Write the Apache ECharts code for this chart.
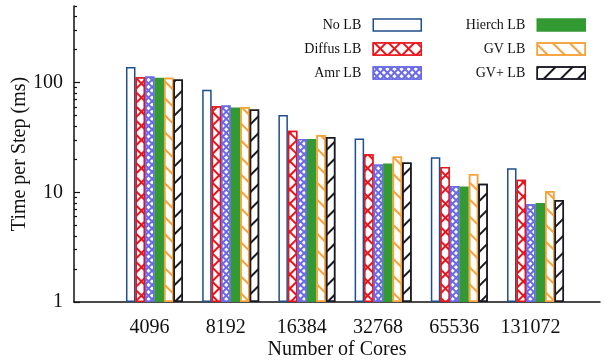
<!DOCTYPE html>
<html><head><meta charset="utf-8">
<script src="https://cdn.jsdelivr.net/npm/echarts@6/dist/echarts.min.js"></script>
<style>html,body{margin:0;padding:0;background:#fff}#c{width:604px;height:362px}</style>
</head><body><div id="c"></div>
<script>
const cores = ['4096', '8192', '16384', '32768', '65536', '131072'];
const noLB = [139, 86, 50.7, 31, 20.9, 16.6];
const diffusLB = [112, 60.8, 36.5, 22.3, 17, 13.0];
const amrLB = [114, 62, 30.6, 17.9, 11.4, 7.8];
const hierchLB = [111, 59.5, 30.6, 18.3, 11.3, 8.0];
const gvLB = [111, 60, 33.3, 21.2, 14.7, 10.3];
const gvPlusLB = [107, 57, 31.9, 18.7, 12.0, 8.5];
const yLabelValues = [1, 10, 100];
const yMinorTickValues = [2,3,4,5,6,7,8,9,20,30,40,50,60,70,80,90,200,300,400,500];

const FONT = 'Liberation Serif';
const cat = cores.map((c, i) => i);

function mk(name, values, itemStyle) {
  return {
    name, type: 'bar', barWidth: 9.5, barGap: '0%',
    data: values.map((v, i) => [cat[i], v]),
    itemStyle
  };
}

const series = [
  mk('No LB', noLB, {color: '#fff', borderColor: '#1f4e8c', borderWidth: 1.5}),
  mk('Diffus LB', diffusLB, {color: '#fff', borderColor: '#e8141c', borderWidth: 1.5,
    decal: {symbol: 'rect', symbolSize: 1, dashArrayX: [7.2, 1.4], dashArrayY: [7.2, 1.4], rotation: Math.PI / 4, color: '#fff', backgroundColor: '#e8141c'}}),
  mk('Amr LB', amrLB, {color: '#fff', borderColor: '#6a6ae6', borderWidth: 1.5,
    decal: {symbol: 'rect', symbolSize: 1, dashArrayX: [3, 1.1], dashArrayY: [3, 1.1], rotation: Math.PI / 4, color: '#fff', backgroundColor: '#6a6ae6'}}),
  mk('Hierch LB', hierchLB, {color: '#339933', borderColor: '#339933', borderWidth: 0}),
  mk('GV LB', gvLB, {color: '#fff', borderColor: '#f7a13a', borderWidth: 1.5,
    decal: {symbol: 'rect', symbolSize: 1, dashArrayX: [1, 0], dashArrayY: [1.3, 9.2], rotation: Math.PI / 4, color: '#f7a13a'}}),
  mk('GV+ LB', gvPlusLB, {color: '#fff', borderColor: '#1a1a24', borderWidth: 1.5,
    decal: {symbol: 'rect', symbolSize: 1, dashArrayX: [1, 0], dashArrayY: [1.3, 9.2], rotation: -Math.PI / 4, color: '#1a1a24'}})
];

const legendPos = [
  ['No LB', 182, 18], ['Diffus LB', 182, 42], ['Amr LB', 182, 66],
  ['Hierch LB', 18, 18], ['GV LB', 18, 42], ['GV+ LB', 18, 66]
];

const chart = echarts.init(document.getElementById('c'), null, {renderer: 'canvas'});
chart.setOption({
  animation: false,
  backgroundColor: '#fff',
  grid: {left: 74, right: 4, top: 6, bottom: 60, containLabel: false, outerBoundsMode: 'none'},
  legend: legendPos.map(([n, r, t]) => ({
    data: [n], right: r, top: t, align: 'right', icon: 'rect',
    itemWidth: 48, itemHeight: 12, padding: 0,
    itemStyle: {borderWidth: 1.5},
    textStyle: {fontFamily: FONT, fontSize: 14, color: '#111', padding: [0, 7, 0, 0]}
  })),
  xAxis: {
    type: 'value', min: -1.056, max: 5.846,
    splitLine: {show: false},
    axisTick: {show: false},
    axisLine: {onZero: false, lineStyle: {color: '#111', width: 1.5}},
    axisLabel: {customValues: cat.map(i => i - 0.066), formatter: v => cores[Math.round(v)],
      fontFamily: FONT, fontSize: 20, color: '#111', margin: 16},
    name: 'Number of Cores', nameLocation: 'middle', nameGap: 38, nameMoveOverlap: false,
    nameTextStyle: {fontFamily: FONT, fontSize: 20, color: '#111'}
  },
  yAxis: [{
    type: 'log', logBase: 10, min: 1, max: 500,
    splitLine: {show: false},
    axisLine: {show: true, onZero: false, lineStyle: {color: '#111', width: 1.5}},
    axisTick: {show: true, inside: true, length: 6, customValues: yLabelValues, lineStyle: {color: '#111', width: 1.2}},
    axisLabel: {customValues: yLabelValues, fontFamily: FONT, fontSize: 20, color: '#111', margin: 11},
    name: 'Time per Step (ms)', nameLocation: 'middle', nameGap: 44, nameMoveOverlap: false,
    nameTextStyle: {fontFamily: FONT, fontSize: 20, color: '#111'}
  }, {
    type: 'log', logBase: 10, min: 1, max: 500, position: 'left', offset: 0,
    splitLine: {show: false},
    axisLine: {show: false, onZero: false},
    axisLabel: {show: false},
    axisTick: {show: true, inside: true, length: 3, customValues: yMinorTickValues, lineStyle: {color: '#111', width: 1.2}}
  }],
  series
});
</script></body></html>
